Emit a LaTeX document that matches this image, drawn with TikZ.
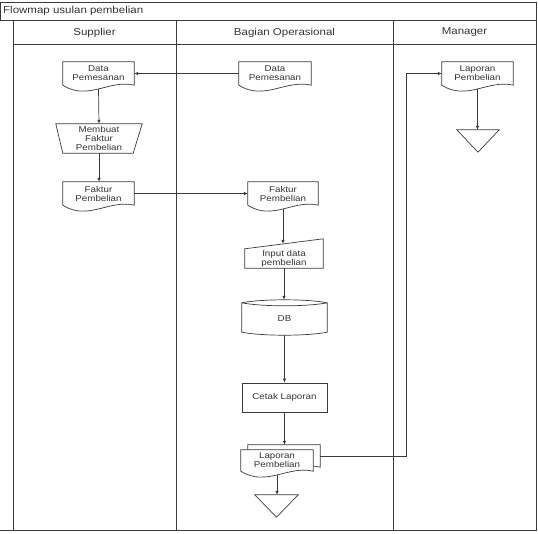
\documentclass[tikz,border=0pt]{standalone}
\usepackage{fontspec}
\setmainfont{Liberation Sans}[FakeStretch=1.15]
\usetikzlibrary{calc,arrows.meta}
\definecolor{lncol}{HTML}{3A3A3A}
\definecolor{txtcol}{HTML}{333333}
\tikzset{
  ln/.style={draw=lncol, line width=0.7pt},
  frame/.style={draw=lncol, line width=1pt},
  box/.style={inner sep=0pt, align=center, font=\fontsize{8.5}{9}\selectfont, text=txtcol},
  hdr/.style={inner sep=0pt, font=\fontsize{10}{12}\selectfont, text=txtcol},
  arr/.style={ln, -{Latex[length=4pt,width=3.5pt]}},
}
\newcommand\docshape[2]{%
  \filldraw[ln, fill=white] (#1.north west) -- (#1.north east) -- (#1.south east)
    .. controls ($(#1.south east)!0.35!(#1.south west)+(0,-6)$)
       and ($(#1.south east)!0.65!(#1.south west)+(0,16)$) .. (#1.south west) -- cycle;
  \node[box] at (#1.center) {#2};}
\newcommand\stoptri[1]{%
  \draw[ln] (#1.north west) -- (#1.north east) -- (#1.south) -- cycle;}
\begin{document}
\begin{tikzpicture}[x=1pt,y=-1pt]
\useasboundingbox (0,0) rectangle (538,533);
% frame and lanes
\draw[frame] (0,20) -- (0,2) -- (536,2) -- (536,530) -- (0,530);
\draw[frame] (0,20) -- (536,20);
\draw[frame] (13,44) -- (536,44);
\draw[frame] (13,20) -- (13,530);
\draw[frame] (176,20) -- (176,530);
\draw[frame] (393,20) -- (393,530);
\node[hdr, anchor=west] (title) at (3,11) {Flowmap usulan pembelian};
\node[hdr] (hS) at (94.5,32.5) {Supplier};
\node[hdr] (hB) at (284.5,32.5) {Bagian Operasional};
\node[hdr] (hM) at (464.5,32.5) {Manager};

% Supplier lane
\node[box, minimum width=71pt, minimum height=23pt] (sDP) at (98.5,73.5) {};
\docshape{sDP}{Data\\Pemesanan}
\node[box, minimum width=86pt, minimum height=29pt] (sMF) at (99,138.5) {};
\draw[ln] (sMF.north west) -- (sMF.north east) -- ($(sMF.south east)+(-9,0)$) -- ($(sMF.south west)+(7,0)$) -- cycle;
\node[box] at (sMF.center) {Membuat\\Faktur\\Pembelian};
\node[box, minimum width=71pt, minimum height=23pt] (sFP) at (98.5,193.5) {};
\docshape{sFP}{Faktur\\Pembelian}

% Bagian Operasional lane
\node[box, minimum width=72pt, minimum height=23pt] (bDP) at (275,73.5) {};
\docshape{bDP}{Data\\Pemesanan}
\node[box, minimum width=70pt, minimum height=23pt] (bFP) at (283,193.5) {};
\docshape{bFP}{Faktur\\Pembelian}
\node[box, minimum width=78pt, minimum height=19pt] (bIn) at (284,258.5) {};
\draw[ln] (bIn.south west) -- (bIn.north west) -- ($(bIn.north east)+(0,-10)$) -- (bIn.south east) -- cycle;
\node[box] at (bIn.center) {Input data\\pembelian};
\node[box, minimum width=85pt, minimum height=34pt] (db) at (284.5,318) {};
\draw[ln] ($(db.north west)+(0,2)$) -- ($(db.south west)+(0,-3)$)
  .. controls ($(db.south west)+(20,1)$) and ($(db.south east)+(-20,1)$) .. ($(db.south east)+(0,-3)$)
  -- ($(db.north east)+(0,2)$)
  .. controls ($(db.north east)+(-20,-2)$) and ($(db.north west)+(20,-2)$) .. cycle;
\draw[ln] ($(db.north west)+(0,2)$) .. controls ($(db.north west)+(20,6)$) and ($(db.north east)+(-20,6)$) .. ($(db.north east)+(0,2)$);
\node[box] at ($(db.center)+(0,1)$) {DB};
\node[box, draw=lncol, line width=0.7pt, minimum width=85pt, minimum height=29pt] (cetak) at (284.5,397.5) {Cetak Laporan};
\node[box, minimum width=72pt, minimum height=22pt] (bLP2) at (284,456) {};
\docshape{bLP2}{}
\node[box, minimum width=72pt, minimum height=21pt] (bLP) at (277,460.5) {};
\docshape{bLP}{Laporan\\Pembelian}
\node[inner sep=0pt, minimum width=43pt, minimum height=22pt] (bT) at (276.5,506) {};
\stoptri{bT}

% Manager lane
\node[box, minimum width=71pt, minimum height=23pt] (mLP) at (477.5,73.5) {};
\docshape{mLP}{Laporan\\Pembelian}
\node[inner sep=0pt, minimum width=42pt, minimum height=22pt] (mT) at (478,141) {};
\stoptri{mT}

% connectors
\coordinate (jog) at (406,0);
\draw[arr] (bDP.west) -- (sDP.east);
\draw[arr] ($(sDP.south)+(0,3.75)$) -- (sMF.north);
\draw[arr] (sMF.south) -- (sMF.south |- sFP.north);
\draw[arr] (sFP.east) -- (bFP.west);
\draw[arr] ($(bFP.south)+(0,3.75)$) -- ($(bFP.south |- bIn.north)+(0,-5)$);
\draw[arr] (bIn.south) -- ($(bIn.south |- db.north)+(0,-1)$);
\draw[arr] (db.south) -- (db.south |- cetak.north);
\draw[arr] (cetak.south) -- (cetak.south |- bLP2.north);
\draw[arr] ($(bLP.south)+(0,3.75)$) -- (bLP.south |- bT.north);
\draw[arr] (bLP2.east) -- (bLP2.east -| jog) |- (mLP.west);
\draw[arr] ($(mLP.south)+(0,3.75)$) -- (mLP.south |- mT.north);
\end{tikzpicture}
\end{document}
